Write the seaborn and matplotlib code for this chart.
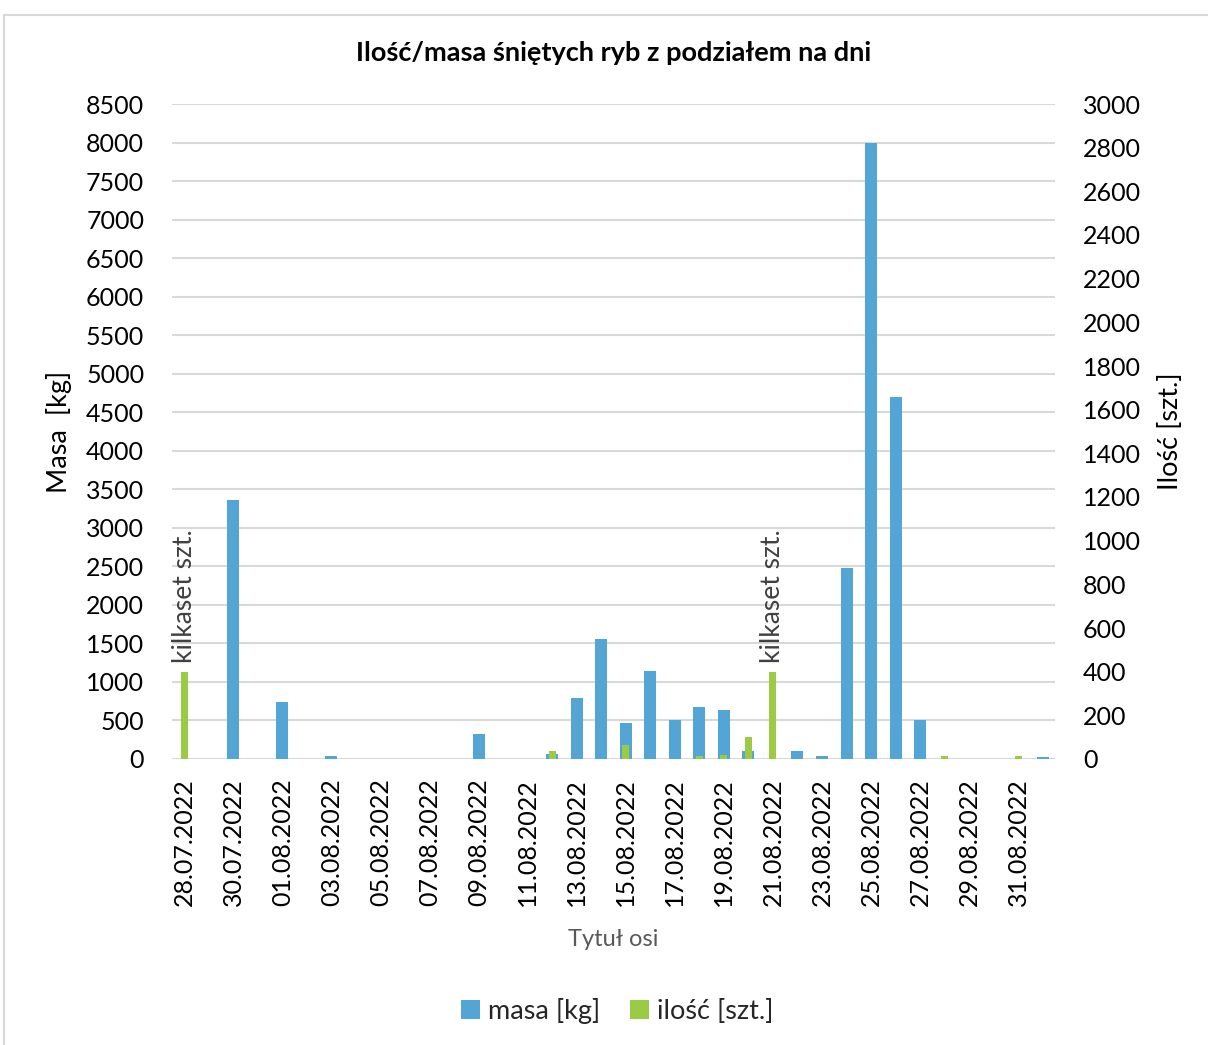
import matplotlib
matplotlib.use("Agg")
import matplotlib.pyplot as plt
from matplotlib.patches import Patch, Rectangle
import seaborn as sns
import pandas as pd

dates = ["28.07.2022", "29.07.2022", "30.07.2022", "31.07.2022", "01.08.2022", "02.08.2022",
         "03.08.2022", "04.08.2022", "05.08.2022", "06.08.2022", "07.08.2022", "08.08.2022",
         "09.08.2022", "10.08.2022", "11.08.2022", "12.08.2022", "13.08.2022", "14.08.2022",
         "15.08.2022", "16.08.2022", "17.08.2022", "18.08.2022", "19.08.2022", "20.08.2022",
         "21.08.2022", "22.08.2022", "23.08.2022", "24.08.2022", "25.08.2022", "26.08.2022",
         "27.08.2022", "28.08.2022", "29.08.2022", "30.08.2022", "31.08.2022", "01.09.2022"]
masa = [0, 0, 3360, 0, 740, 0, 35, 0, 0, 0, 0, 0,
        320, 0, 0, 65, 790, 1560, 470, 1140, 510, 670, 640, 108,
        0, 108, 35, 2480, 8000, 4700, 510, 0, 0, 0, 0, 26]
ilosc = [400, 0, 0, 0, 0, 0, 0, 0, 0, 0, 0, 0,
         0, 0, 0, 38, 0, 0, 65, 0, 0, 12, 17, 102,
         400, 0, 0, 0, 0, 0, 0, 12, 0, 0, 12, 0]
annot_idx = [0, 24]
annot_text = "kilkaset szt."

title = "Ilość/masa śniętych ryb z podziałem na dni"
ylabel_left = "Masa  [kg]"
ylabel_right = "Ilość [szt.]"
xlabel = "Tytuł osi"
series_names = ["masa [kg]", "ilość [szt.]"]

BLUE = "#52A5D5"
GREEN = "#9BCB44"
GRID = "#D9D9D9"

sns.set_theme(style="white")
plt.rcParams["font.family"] = ["Lato", "DejaVu Sans"]

df = pd.DataFrame({"data": dates, "masa": masa, "ilosc": ilosc})

fig = plt.figure(figsize=(12.08, 10.45), dpi=100)
ax = fig.add_axes([172 / 1208, 1 - 759 / 1045, (1055 - 172) / 1208, (759 - 104) / 1045])
ax2 = ax.twinx()

sns.barplot(data=df, x="data", y="masa", ax=ax, color=BLUE, width=0.49,
            linewidth=0, saturation=1, order=dates)
sns.barplot(data=df, x="data", y="ilosc", ax=ax2, color=GREEN, width=0.28,
            linewidth=0, saturation=1, order=dates)

fs = 18
fl = 19.5
ax.set_ylim(0, 8500)
ax.set_yticks(range(0, 8501, 500))
ax2.set_ylim(0, 3000)
ax2.set_yticks(range(0, 3001, 200))
ax.set_xlim(-0.5, len(dates) - 0.5)

ax.yaxis.grid(True, color=GRID, linewidth=1.5)
ax.set_axisbelow(True)
for a in (ax, ax2):
    for s in a.spines.values():
        s.set_visible(False)
    a.tick_params(length=0)

ax.set_xticks(range(0, len(dates), 2))
ax.set_xticklabels(dates[::2], rotation=90, fontsize=fs, color="black")
ax.tick_params(axis="x", pad=14)
ax.tick_params(axis="y", labelsize=fs, pad=20, labelcolor="black")
ax2.tick_params(axis="y", labelsize=fs, pad=20, labelcolor="black")

ax.set_ylabel(ylabel_left, fontsize=fl, color="black", labelpad=10)
ax2.set_ylabel(ylabel_right, fontsize=fl, color="black", labelpad=12, rotation=90)
ax.set_xlabel(xlabel, fontsize=17, color="#595959", labelpad=16)

for i in annot_idx:
    ax2.annotate(annot_text, xy=(i, ilosc[i]), xytext=(0, 6), textcoords="offset points",
                 rotation=90, ha="center", va="bottom", fontsize=19, color="#404040")

fig.text(0.508, 1 - 53 / 1045, title, ha="center", va="center", fontsize=19.5,
         fontweight="bold", color="black")

handles = [Patch(facecolor=BLUE, edgecolor="none"), Patch(facecolor=GREEN, edgecolor="none")]
fig.legend(handles, series_names, loc="center", bbox_to_anchor=(0.511, 1 - 1011 / 1045),
           ncol=2, frameon=False, fontsize=fl, handlelength=0.7, handleheight=0.7,
           handletextpad=0.3, columnspacing=1.1)

fig.patches.append(Rectangle((4 / 1208, -0.1), 1.2, 1 - 15 / 1045 + 0.1,
                             transform=fig.transFigure, fill=False,
                             edgecolor=GRID, linewidth=1.5, zorder=-1))

fig.savefig("out.png", dpi=100, facecolor="white")
